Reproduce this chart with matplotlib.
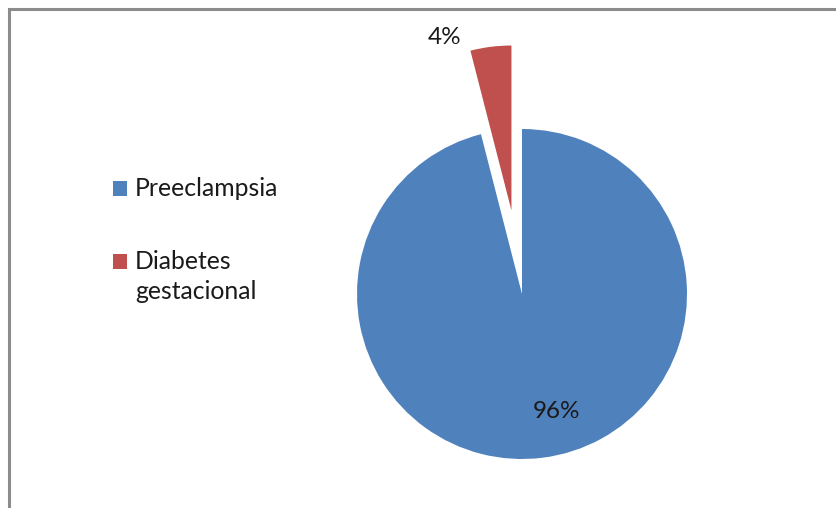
import matplotlib
matplotlib.use("Agg")
import matplotlib.pyplot as plt
from matplotlib.patches import Rectangle

# Complicaciones del embarazo
categorias = ["Preeclampsia", "Diabetes\ngestacional"]
porcentajes = [96, 4]
colores = ["#4F81BD", "#C0504D"]

plt.rcParams["font.family"] = ["Lato", "DejaVu Sans"]

W, H = 836, 508
fig = plt.figure(figsize=(W / 100, H / 100), dpi=100)
fig.patch.set_facecolor("white")

# pie axes: centre at pixel (522, 294), radius 165 px
cx, cy, r = 522, 294, 165
ax = fig.add_axes([0, 0, 1, 1])

wedges, texts, autotexts = ax.pie(
    porcentajes, colors=colores, startangle=90, counterclock=False,
    explode=[0, 0.51], autopct="%1.0f%%", radius=1,
    wedgeprops=dict(linewidth=0), textprops=dict(fontsize=17.5, color="#1a1a1a"))

ax.set_aspect("auto")
ax.set_xlim(-cx / r, (W - cx) / r)
ax.set_ylim(-(H - cy) / r, cy / r)
ax.axis("off")

# move the percentage labels to where the chart shows them
pos_px = [(556, 411), (445, 38)]
for t, (px, py) in zip(autotexts, pos_px):
    t.set_position(((px - cx) / r, (cy - py) / r))
    t.set_ha("center")
    t.set_va("center")

# overlay in pixel coordinates for legend and frame
ov = fig.add_axes([0, 0, 1, 1], facecolor="none")
ov.set_xlim(0, W)
ov.set_ylim(H, 0)
ov.axis("off")

ov.plot([9, 9, W + 5], [H + 5, 9, 9], color="#8C8C8C", lw=2.2,
        solid_joinstyle="miter", clip_on=False)

# legend: square marker + label, one baseline per line
baselines = [196, 269]
for nombre, col, base in zip(categorias, colores, baselines):
    ov.add_patch(Rectangle((113, base - 15), 14, 15, facecolor=col, edgecolor="none"))
    for k, linea in enumerate(nombre.split("\n")):
        ov.text(135, base + 30 * k, linea, fontsize=17.8, color="#1a1a1a",
                ha="left", va="baseline")

fig.savefig("out.png", dpi=100, facecolor="white")
